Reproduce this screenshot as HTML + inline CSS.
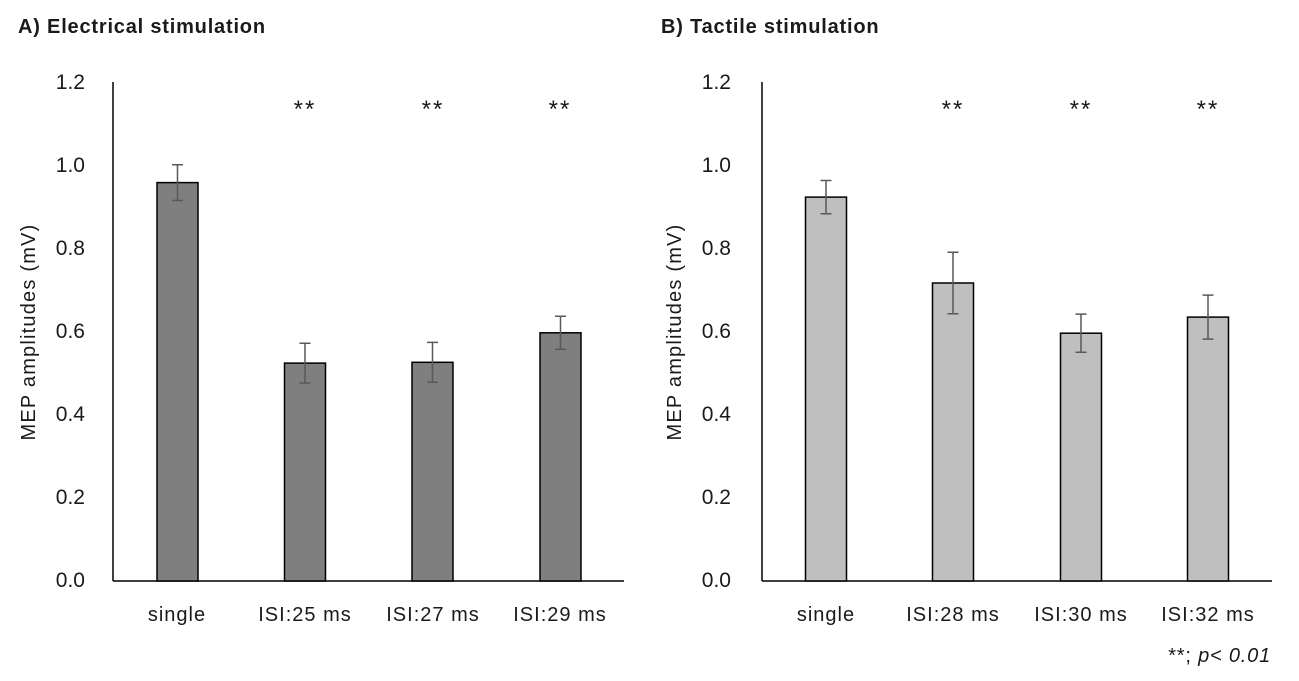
<!DOCTYPE html>
<html><head><style>body{margin:0;background:#fff}svg{display:block}text{font-family:"Liberation Sans",sans-serif;fill:#1a1a1a}</style></head><body>
<svg width="1299" height="681" viewBox="0 0 1299 681">
<text x="18" y="33" font-size="20" font-weight="bold" letter-spacing="0.8">A) Electrical stimulation</text>
<text x="661" y="33" font-size="20" font-weight="bold" letter-spacing="0.8">B) Tactile stimulation</text>
<g font-size="21" text-anchor="end">
<text x="85" y="89">1.2</text><text x="85" y="172">1.0</text><text x="85" y="255">0.8</text><text x="85" y="338">0.6</text><text x="85" y="421">0.4</text><text x="85" y="504">0.2</text><text x="85" y="587">0.0</text>
<text x="731" y="89">1.2</text><text x="731" y="172">1.0</text><text x="731" y="255">0.8</text><text x="731" y="338">0.6</text><text x="731" y="421">0.4</text><text x="731" y="504">0.2</text><text x="731" y="587">0.0</text>
</g>
<text transform="translate(35,332) rotate(-90)" font-size="20" letter-spacing="1.2" text-anchor="middle">MEP amplitudes (mV)</text>
<text transform="translate(681,332) rotate(-90)" font-size="20" letter-spacing="1.2" text-anchor="middle">MEP amplitudes (mV)</text>
<g stroke="#000" stroke-width="1.5">
<line x1="113" y1="82" x2="113" y2="581"/><line x1="113" y1="581" x2="624" y2="581"/>
<line x1="762" y1="82" x2="762" y2="581"/><line x1="762" y1="581" x2="1272" y2="581"/>
</g>
<g stroke="#000" stroke-width="1.5" fill="#7f7f7f">
<rect x="157" y="182.6" width="41" height="398.4"/>
<rect x="284.5" y="363.1" width="41" height="217.9"/>
<rect x="412" y="362.3" width="41" height="218.7"/>
<rect x="540" y="332.8" width="41" height="248.2"/>
</g>
<g stroke="#000" stroke-width="1.5" fill="#bfbfbf">
<rect x="805.5" y="197.1" width="41" height="383.9"/>
<rect x="932.5" y="283" width="41" height="298"/>
<rect x="1060.5" y="333.2" width="41" height="247.8"/>
<rect x="1187.5" y="317.1" width="41" height="263.9"/>
</g>
<g stroke="#595959" stroke-width="1.5" fill="none">
<path d="M177.5 164.7V200.5M172 164.7h11M172 200.5h11"/>
<path d="M305 343.2V383M299.5 343.2h11M299.5 383h11"/>
<path d="M432.5 342.4V382.2M427 342.4h11M427 382.2h11"/>
<path d="M560.5 316.2V349.4M555 316.2h11M555 349.4h11"/>
<path d="M826 180.5V213.7M820.5 180.5h11M820.5 213.7h11"/>
<path d="M953 252.3V313.7M947.5 252.3h11M947.5 313.7h11"/>
<path d="M1081 314.1V352.3M1075.5 314.1h11M1075.5 352.3h11"/>
<path d="M1208 295.1V339.1M1202.5 295.1h11M1202.5 339.1h11"/>
</g>
<g font-size="24" text-anchor="middle" letter-spacing="2">
<text x="305" y="117">**</text><text x="433" y="117">**</text><text x="560" y="117">**</text>
<text x="953" y="117">**</text><text x="1081" y="117">**</text><text x="1208" y="117">**</text>
</g>
<g font-size="20" text-anchor="middle" letter-spacing="1">
<text x="177" y="621">single</text><text x="305" y="621">ISI:25 ms</text><text x="433" y="621">ISI:27 ms</text><text x="560" y="621">ISI:29 ms</text>
<text x="826" y="621">single</text><text x="953" y="621">ISI:28 ms</text><text x="1081" y="621">ISI:30 ms</text><text x="1208" y="621">ISI:32 ms</text>
</g>
<text x="1271" y="662" font-size="20" letter-spacing="0.8" text-anchor="end">**; <tspan font-style="italic">p&lt; 0.01</tspan></text>
</svg>
</body></html>
